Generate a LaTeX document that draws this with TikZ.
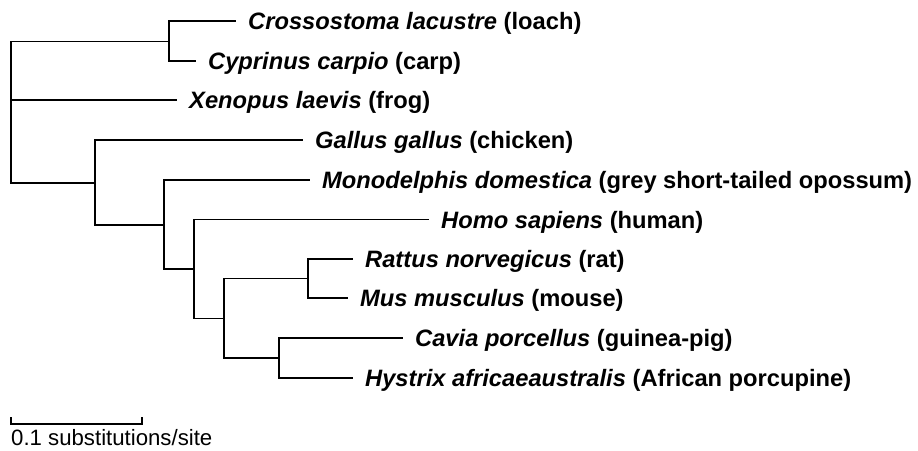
\documentclass[tikz,border=0pt]{standalone}
\usepackage{fontspec}
\setmainfont{Liberation Sans}
\begin{document}
\begin{tikzpicture}[x=1pt,y=-1pt,
  br/.style={line width=1.7pt,line cap=rect},
  lab/.style={anchor=base west,inner sep=0pt,font=\fontsize{23.7}{26}\selectfont\bfseries},
  scl/.style={anchor=base west,inner sep=0pt,font=\fontsize{22.2}{24}\selectfont}]
\useasboundingbox (0,0) rectangle (918,450);
% internal nodes
\coordinate (R) at (11,100);
\coordinate (F) at (168.7,41.5);
\coordinate (A) at (95.3,183);
\coordinate (M) at (164.3,225);
\coordinate (E) at (194,269);
\coordinate (Rd) at (224.3,318.5);
\coordinate (RM) at (307.7,278.5);
\coordinate (CH) at (278.7,358);
% tips
\coordinate (tLoach) at (235,21);
\coordinate (tCarp) at (195,61);
\coordinate (tXen) at (176,100);
\coordinate (tGal) at (302,140);
\coordinate (tMon) at (309,180);
\coordinate (tHom) at (428,219.5);
\coordinate (tRat) at (352,259);
\coordinate (tMus) at (347,298);
\coordinate (tCav) at (402,338);
\coordinate (tHys) at (352,377.7);
% labels
\newcommand{\spx}[2]{\textit{#1} #2}
\tikzset{lshift/.style={xshift=13pt,yshift=-8.5pt}}
\node[lab] (loach) at ([lshift]tLoach) {\spx{Crossostoma lacustre}{(loach)}};
\node[lab] (carp) at ([lshift]tCarp) {\spx{Cyprinus carpio}{(carp)}};
\node[lab] (xen) at ([lshift]tXen) {\spx{Xenopus laevis}{(frog)}};
\node[lab] (gal) at ([lshift]tGal) {\spx{Gallus gallus}{(chicken)}};
\node[lab] (mon) at ([lshift]tMon) {\spx{Monodelphis domestica}{(grey short-tailed opossum)}};
\node[lab] (hom) at ([lshift]tHom) {\spx{Homo sapiens}{(human)}};
\node[lab] (rat) at ([lshift]tRat) {\spx{Rattus norvegicus}{(rat)}};
\node[lab] (mus) at ([lshift]tMus) {\spx{Mus musculus}{(mouse)}};
\node[lab] (cav) at ([lshift]tCav) {\spx{Cavia porcellus}{(guinea-pig)}};
\node[lab] (hys) at ([lshift]tHys) {\spx{Hystrix africaeaustralis}{(African porcupine)}};
% branches
\draw[br] (F) -| (R);
\draw[br] (A) -| (R);
\draw[br] (R) -- (tXen);
\draw[br] (F) |- (tLoach);
\draw[br] (F) |- (tCarp);
\draw[br] (A) |- (tGal);
\draw[br] (A) |- (M);
\draw[br] (M) |- (tMon);
\draw[br] (M) |- (E);
\draw[br] (E) |- (tHom);
\draw[br] (E) |- (Rd);
\draw[br] (Rd) |- (RM);
\draw[br] (Rd) |- (CH);
\draw[br] (RM) |- (tRat);
\draw[br] (RM) |- (tMus);
\draw[br] (CH) |- (tCav);
\draw[br] (CH) |- (tHys);
% scale bar
\coordinate (s1) at (11,424);
\coordinate (s2) at (141.7,424);
\draw[br,line cap=butt] ([yshift=7pt]s1) -- (s1) -- (s2) -- ([yshift=7pt]s2);
\node[scl] (sc) at (11,445.5) {0.1 substitutions/site};
\end{tikzpicture}
\end{document}
